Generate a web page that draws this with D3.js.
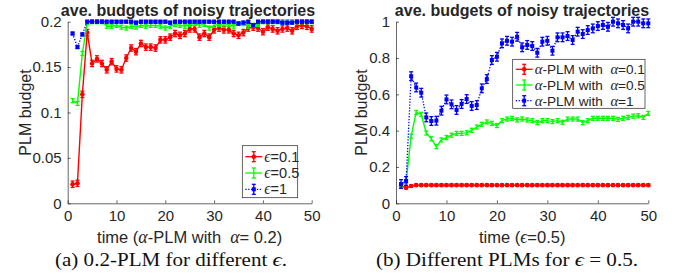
<!DOCTYPE html>
<html>
<head>
<meta charset="utf-8">
<title>ave. budgets of noisy trajectories</title>
<script src="https://cdnjs.cloudflare.com/ajax/libs/d3/7.8.5/d3.min.js"></script>
<style>
  body { margin: 0; background: #fff; }
  text { font-family: "Liberation Sans", Arial, sans-serif; fill: #262626; }
  .greek { font-family: "Liberation Serif", serif; font-style: italic; font-size: 1.08em; }
  .caption { font-family: "Liberation Serif", serif; fill: #111; }
</style>
</head>
<body>
<div id="chart"></div>
<script>
const time = d3.range(1, 51);

// (a) 0.2-PLM, different epsilon
const leftEps01 = [0.021,0.022,0.120,0.188,0.154,0.159,0.154,0.147,0.156,0.148,
                   0.147,0.160,0.171,0.167,0.176,0.172,0.172,0.171,0.180,0.180,
                   0.183,0.187,0.185,0.187,0.192,0.192,0.183,0.187,0.183,0.191,
                   0.193,0.191,0.191,0.187,0.185,0.188,0.193,0.194,0.193,0.189,
                   0.194,0.192,0.190,0.192,0.193,0.190,0.195,0.196,0.195,0.192];
const leftEps05 = [0.113,0.110,0.165,0.199,0.200,0.200,0.200,0.195,0.195,0.196,
                   0.194,0.193,0.195,0.194,0.196,0.195,0.196,0.196,0.195,0.193,
                   0.195,0.197,0.196,0.195,0.197,0.198,0.196,0.197,0.193,0.196,
                   0.197,0.196,0.197,0.195,0.198,0.198,0.195,0.196,0.197,0.200,
                   0.200,0.200,0.200,0.200,0.200,0.200,0.200,0.200,0.200,0.200];
const leftEps1  = [0.187,0.172,0.186,0.200,0.200,0.200,0.200,0.200,0.200,0.200,
                   0.200,0.200,0.200,0.199,0.200,0.200,0.200,0.200,0.200,0.200,
                   0.199,0.200,0.200,0.200,0.200,0.200,0.200,0.200,0.200,0.200,
                   0.200,0.200,0.200,0.200,0.198,0.199,0.200,0.196,0.200,0.200,
                   0.200,0.200,0.200,0.199,0.199,0.199,0.200,0.200,0.200,0.200];
const leftErr = [0.0035, 0.0022, 0.0015];
const leftTicksY = [0, 0.05, 0.1, 0.15, 0.2];

// (b) different PLMs, epsilon = 0.5
const rightA01 = [0.095,0.085,0.095,0.100,0.100,0.100,0.100,0.100,0.100,0.100,
                  0.100,0.100,0.100,0.100,0.100,0.100,0.100,0.100,0.100,0.100,
                  0.100,0.100,0.100,0.100,0.100,0.100,0.100,0.100,0.100,0.100,
                  0.100,0.100,0.100,0.100,0.100,0.100,0.100,0.100,0.100,0.100,
                  0.100,0.100,0.100,0.100,0.100,0.100,0.100,0.100,0.100,0.100];
const rightA05 = [0.100,0.120,0.370,0.500,0.490,0.387,0.355,0.312,0.349,0.362,
                  0.375,0.385,0.385,0.388,0.402,0.420,0.435,0.448,0.440,0.428,
                  0.455,0.464,0.468,0.459,0.464,0.459,0.455,0.444,0.455,0.455,
                  0.450,0.455,0.446,0.464,0.464,0.464,0.444,0.455,0.468,0.468,
                  0.468,0.468,0.468,0.462,0.468,0.473,0.480,0.482,0.473,0.495];
const rightA1  = [0.106,0.123,0.700,0.638,0.609,0.473,0.453,0.455,0.510,0.572,
                  0.545,0.514,0.547,0.574,0.536,0.541,0.633,0.684,0.789,0.807,
                  0.881,0.895,0.890,0.917,0.859,0.872,0.866,0.829,0.890,0.895,
                  0.840,0.914,0.914,0.921,0.899,0.945,0.932,0.954,0.963,0.976,
                  0.982,0.972,1.000,0.991,0.982,0.963,1.000,1.000,0.991,0.991];
const rightErr = [0.006, 0.011, 0.024];
const rightTicksY = [0, 0.2, 0.4, 0.6, 0.8, 1];

const xTicks = [0, 10, 20, 30, 40, 50];

const W = 682, H = 276;
const svg = d3.select("#chart").append("svg")
    .attr("width", W).attr("height", H)
    .attr("xmlns", "http://www.w3.org/2000/svg");
svg.append("rect").attr("width", W).attr("height", H).attr("fill", "#fff");

const RED = "#ff0000", GREEN = "#00ff00", BLUE = "#0000ff";
const GAP = "with\u00a0 ";

// write a text made of plain and greek pieces
function richText(sel, parts) {
    parts.forEach(([str, greek]) => {
        const ts = sel.append("tspan").text(str);
        if (greek) ts.attr("class", "greek");
    });
    return sel;
}

function drawMarker(g, kind, cx, cy, color) {
    if (kind === "circle") {
        g.append("circle").attr("cx", cx).attr("cy", cy).attr("r", 2.3).attr("fill", color);
    } else if (kind === "square") {
        g.append("rect").attr("x", cx - 2).attr("y", cy - 2)
            .attr("width", 4).attr("height", 4).attr("fill", color);
    }
}

function drawPanel(cfg) {
    const g = svg.append("g");
    const x = d3.scaleLinear().domain([0, 50]).range([cfg.x0, cfg.x1]);
    const y = d3.scaleLinear().domain(cfg.yDomain).range([203.3, 21.7]);

    const xAxis = g.append("g").attr("transform", `translate(0,${y.range()[0]})`)
        .call(d3.axisBottom(x).tickValues(xTicks).tickSizeInner(-3).tickSizeOuter(0).tickPadding(7));
    const yAxis = g.append("g").attr("transform", `translate(${cfg.x0},0)`)
        .call(d3.axisLeft(y).tickValues(cfg.yTicks).tickFormat(d3.format("~g"))
            .tickSizeInner(-3).tickSizeOuter(0).tickPadding(6));
    [xAxis, yAxis].forEach(a => {
        a.selectAll("path, line").attr("stroke", "#262626").attr("stroke-width", 0.7);
        a.selectAll("text").attr("font-size", 15).attr("fill", "#262626")
            .attr("font-family", "Liberation Sans, Arial, sans-serif");
    });

    const line = d3.line().x((d, i) => x(time[i])).y(d => y(d));
    cfg.series.forEach(s => {
        const sg = g.append("g");
        sg.append("path").datum(s.values)
            .attr("d", line).attr("fill", "none").attr("stroke", s.color)
            .attr("stroke-width", s.dotted ? 1.3 : 1.4)
            .attr("stroke-dasharray", s.dotted ? "1.3,1.6" : null);
        s.values.forEach((v, i) => {
            const cx = x(time[i]);
            const yl = y(v - s.err), yh = y(v + s.err);
            sg.append("line").attr("x1", cx).attr("x2", cx).attr("y1", yl).attr("y2", yh)
                .attr("stroke", s.color).attr("stroke-width", 1.3);
            [yl, yh].forEach(yy => sg.append("line")
                .attr("x1", cx - 2).attr("x2", cx + 2).attr("y1", yy).attr("y2", yy)
                .attr("stroke", s.color).attr("stroke-width", 1.3));
            drawMarker(sg, s.marker, cx, y(v), s.color);
        });
    });

    // legend
    const L = cfg.legend;
    const lg = g.append("g");
    lg.append("rect").attr("x", L.x).attr("y", L.y).attr("width", L.w).attr("height", L.h)
        .attr("fill", "#fff").attr("stroke", "#262626").attr("stroke-width", 0.7);
    cfg.series.forEach((s, i) => {
        const ey = L.y + L.first + i * L.step;
        const lx0 = L.x + 3, lx1 = L.x + 20, mx = (lx0 + lx1) / 2;
        lg.append("line").attr("x1", lx0).attr("x2", lx1).attr("y1", ey).attr("y2", ey)
            .attr("stroke", s.color).attr("stroke-width", 1.3)
            .attr("stroke-dasharray", s.dotted ? "1.3,1.6" : null);
        lg.append("line").attr("x1", mx).attr("x2", mx).attr("y1", ey - 5).attr("y2", ey + 5)
            .attr("stroke", s.color).attr("stroke-width", 1.3);
        [ey - 5, ey + 5].forEach(yy => lg.append("line")
            .attr("x1", mx - 2).attr("x2", mx + 2).attr("y1", yy).attr("y2", yy)
            .attr("stroke", s.color).attr("stroke-width", 1.3));
        drawMarker(lg, s.marker, mx, ey, s.color);
        richText(lg.append("text").attr("x", L.x + 22).attr("y", ey + 5)
            .attr("font-size", L.font).attr("fill", "#111"), s.label);
    });

    const cx = (cfg.x0 + cfg.x1) / 2;
    g.append("text").attr("x", cfg.titleX).attr("y", 16).attr("text-anchor", "middle")
        .attr("font-size", 16).attr("font-weight", "bold").attr("fill", "#000")
        .text("ave. budgets of noisy trajectories");
    g.append("text").attr("transform", `translate(${cfg.yLabelX},${(203.3 + 21.7) / 2}) rotate(-90)`)
        .attr("text-anchor", "middle").attr("font-size", 16).text("PLM budget");
    richText(g.append("text").attr("x", cx).attr("y", 242.5).attr("text-anchor", "middle")
        .attr("font-size", 16.5), cfg.xLabel);
    richText(g.append("text").attr("class", "caption").attr("x", cfg.capX - cfg.capW / 2).attr("y", 266)
        .attr("font-size", 18).attr("textLength", cfg.capW).attr("lengthAdjust", "spacingAndGlyphs"),
        cfg.caption);
}

drawPanel({
    x0: 67.7, x1: 311.7, yDomain: [0, 0.2], yTicks: leftTicksY, titleX: 188,
    yLabelX: 30.5, capX: 171, capW: 232,
    series: [
        { values: leftEps01, err: leftErr[0], color: RED, marker: "circle", label: [["ϵ", 1], ["=0.1", 0]] },
        { values: leftEps05, err: leftErr[1], color: GREEN, marker: "none", label: [["ϵ", 1], ["=0.5", 0]] },
        { values: leftEps1, err: leftErr[2], color: BLUE, marker: "square", dotted: true, label: [["ϵ", 1], ["=1", 0]] }
    ],
    legend: { x: 242.3, y: 145.7, w: 55.4, h: 52, first: 11, step: 16.3, font: 14.5 },
    xLabel: [["time (", 0], ["α", 1], ["-PLM " + GAP, 0], ["α", 1], ["= 0.2)", 0]],
    caption: [["(a) 0.2-PLM for different ", 0], ["ϵ", 1], [".", 0]]
});

drawPanel({
    x0: 396, x1: 648.3, yDomain: [0, 1], yTicks: rightTicksY, titleX: 522,
    yLabelX: 366.5, capX: 507, capW: 262,
    series: [
        { values: rightA01, err: rightErr[0], color: RED, marker: "circle", label: [["α", 1], ["-PLM " + GAP, 0], ["α", 1], ["=0.1", 0]] },
        { values: rightA05, err: rightErr[1], color: GREEN, marker: "none", label: [["α", 1], ["-PLM " + GAP, 0], ["α", 1], ["=0.5", 0]] },
        { values: rightA1, err: rightErr[2], color: BLUE, marker: "square", dotted: true, label: [["α", 1], ["-PLM " + GAP, 0], ["α", 1], ["=1", 0]] }
    ],
    legend: { x: 512.7, y: 59.3, w: 132.3, h: 49, first: 10, step: 15.7, font: 13.6 },
    xLabel: [["time (", 0], ["ϵ", 1], ["=0.5)", 0]],
    caption: [["(b) Different PLMs for ", 0], ["ϵ", 1], [" = 0.5.", 0]]
});
</script>
</body>
</html>
